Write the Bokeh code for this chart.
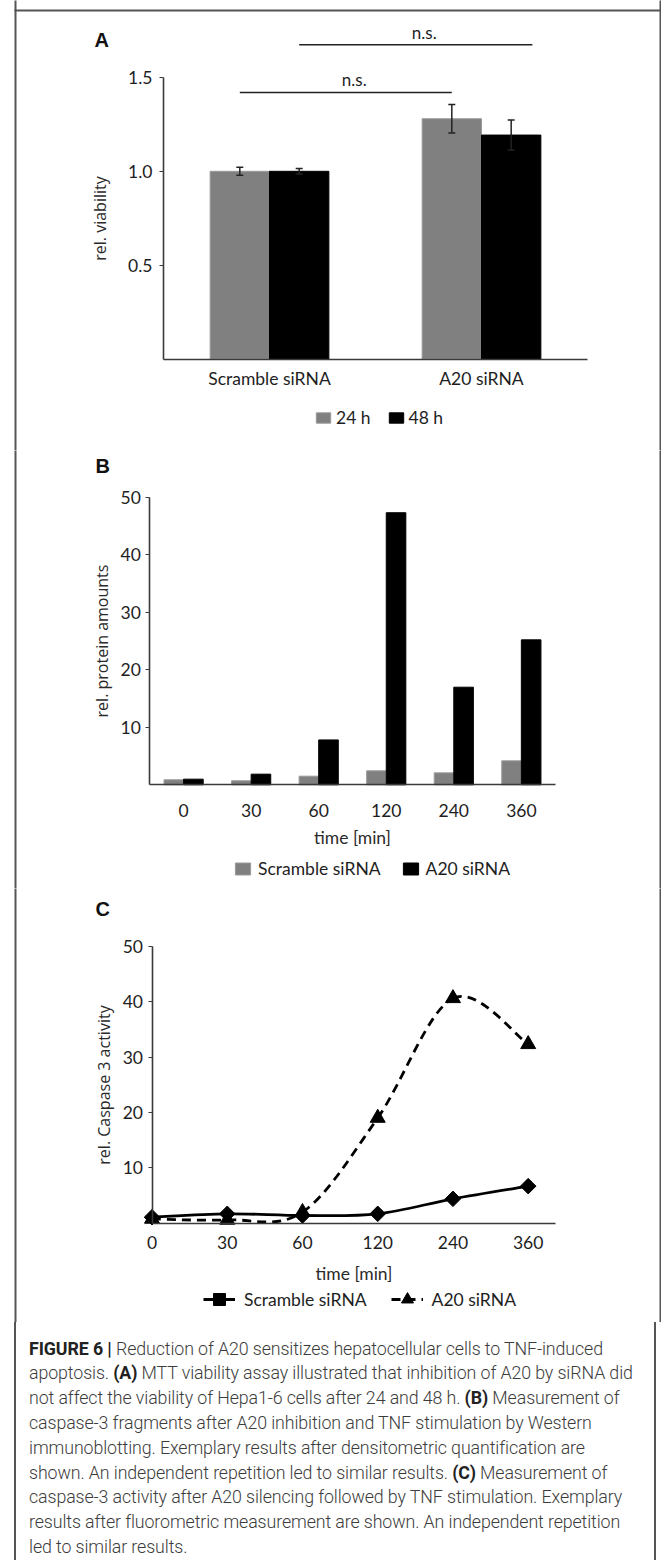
import numpy as np
from bokeh.plotting import figure
from bokeh.models import (ColumnDataSource, Range1d, FixedTicker, Whisker, TeeHead, Legend,
                          LegendItem, Div, PrintfTickFormatter)
from bokeh.layouts import column
from bokeh.transform import dodge
from bokeh.core.properties import value
from bokeh.embed import file_html
from bokeh.resources import INLINE

# ---------------- data ----------------
# Panel A: MTT viability
groups_a = ["Scramble siRNA", "A20 siRNA"]
series_a = ["24 h", "48 h"]
viab_24h = [1.00, 1.28]
viab_24h_err = [0.021, 0.076]
viab_48h = [1.00, 1.193]
viab_48h_err = [0.015, 0.08]
sig_labels = ["n.s.", "n.s."]

# Panel B: caspase-3 fragments (western blot densitometry)
times = ["0", "30", "60", "120", "240", "360"]
series_b = ["Scramble siRNA", "A20 siRNA"]
protein_scramble = [0.87, 0.70, 1.50, 2.43, 2.08, 4.17]
protein_a20 = [0.98, 1.85, 7.80, 47.3, 16.97, 25.2]

# Panel C: caspase-3 activity
casp_scramble = [1.08, 1.69, 1.39, 1.69, 4.40, 6.69]
casp_a20 = [0.78, 0.60, 2.00, 19.0, 40.6, 32.3]

caption_lines = [
    "<b>FIGURE 6 |</b> Reduction of A20 sensitizes hepatocellular cells to TNF-induced",
    "apoptosis. <b>(A)</b> MTT viability assay illustrated that inhibition of A20 by siRNA did",
    "not affect the viability of Hepa1-6 cells after 24 and 48 h. <b>(B)</b> Measurement of",
    "caspase-3 fragments after A20 inhibition and TNF stimulation by Western",
    "immunoblotting. Exemplary results after densitometric quantification are",
    "shown. An independent repetition led to similar results. <b>(C)</b> Measurement of",
    "caspase-3 activity after A20 silencing followed by TNF stimulation. Exemplary",
    "results after fluorometric measurement are shown. An independent repetition",
    "led to similar results.",
]

# ---------------- style / geometry (pixels of the picture) ----------------
GRAY = "#808080"
BLACK = "#000000"
AXIS = "#3a3a3a"
TEXT = "#1e1e1e"
BORDER = "#555555"
TICK_FONT = "Lato"
TICK_SIZE = "17.5px"
YLAB_FONT = "Open Sans"
PANEL_FONT = "Liberation Sans"
W = 661                        # 669 window minus the 8px page margin
H_TOTAL = 1560
PAGE_L, PAGE_R = 0, W
BORDER_L, BORDER_R = 15, 660   # centres of the 2px box lines


class Geo:
    """Maps picture pixels to data units for one panel (each frame covers its whole canvas)."""

    def __init__(self, top, height, x0_px, x_px, y0_px, y_px):
        self.top, self.height = top, height
        self.x0_px, self.x_px, self.y0_px, self.y_px = x0_px, x_px, y0_px, y_px

    def x(self, px):
        return (px - self.x0_px) / self.x_px

    def y(self, py):
        return (self.y0_px - py) / self.y_px

    def x_range(self):
        return Range1d(self.x(PAGE_L), self.x(PAGE_R))

    def y_range(self):
        return Range1d(self.y(self.top + self.height), self.y(self.top))


def make_fig(g):
    return figure(width=W, height=g.height, x_range=g.x_range(), y_range=g.y_range(),
                  output_backend="svg", toolbar_location=None,
                  min_border_left=0, min_border_right=0, min_border_top=0, min_border_bottom=0)


def style(p, x_loc, y_loc, x_bounds, y_bounds):
    p.outline_line_color = None
    p.xgrid.grid_line_color = None
    p.ygrid.grid_line_color = None
    p.background_fill_color = "white"
    p.border_fill_color = "white"
    for ax in p.axis:
        ax.axis_line_color = AXIS
        ax.axis_line_width = 1.6
        ax.major_tick_line_color = AXIS
        ax.major_tick_line_width = 1.2
        ax.major_tick_in = 0
        ax.major_tick_out = 4
        ax.minor_tick_line_color = None
        ax.major_label_text_font = TICK_FONT
        ax.major_label_text_font_size = TICK_SIZE
        ax.major_label_text_color = TEXT
        ax.axis_label_text_font_style = "normal"
        ax.axis_label_text_color = "#2a2a2a"
    p.xaxis.major_tick_line_color = None
    p.xaxis.fixed_location = x_loc
    p.yaxis.fixed_location = y_loc
    p.xaxis.bounds = x_bounds
    p.yaxis.bounds = y_bounds
    p.yaxis.axis_label_text_font = YLAB_FONT
    p.yaxis.axis_label_text_font_size = "16px"
    p.xaxis.axis_label_text_font = TICK_FONT
    p.xaxis.axis_label_text_font_size = TICK_SIZE


def box(p, g, with_top):
    """Figure box: left/right rules (and the top rule for the first panel)."""
    yb, yt = g.y(g.top + g.height + 5), g.y(g.top - 5)
    xs0 = [g.x(BORDER_L), g.x(BORDER_R)]
    xs1 = list(xs0)
    ys0 = [yb, yb]
    ys1 = [yt, yt]
    if with_top:
        xs0.append(g.x(BORDER_L - 1)); xs1.append(g.x(BORDER_R + 1))
        ys0.append(g.y(g.top + 10)); ys1.append(g.y(g.top + 10))
    p.segment(x0=xs0, y0=ys0, x1=xs1, y1=ys1, line_color=BORDER, line_width=2)


def panel_letter(p, g, txt, px, py_bottom):
    p.text(x=[g.x(px)], y=[g.y(py_bottom)], text=[txt], text_font=value(PANEL_FONT),
           text_font_style="bold", text_font_size=value("20px"), text_color="#111111",
           text_align="left", text_baseline="bottom")


def legend(p, items, x, y, glyph_w, glyph_h, spacing, standoff):
    lg = Legend(items=items, orientation="horizontal", location=(x, y),
                border_line_color=None, background_fill_alpha=0, padding=0, margin=0,
                glyph_width=glyph_w, glyph_height=glyph_h, spacing=spacing,
                label_standoff=standoff, label_text_font=TICK_FONT,
                label_text_font_size=TICK_SIZE, label_text_color=TEXT, label_height=14)
    p.add_layout(lg, "center")


# ---------------- Panel A ----------------
gA = Geo(top=0, height=450, x0_px=269, x_px=212, y0_px=358.5, y_px=187.7)
OFF_A = 0.14
BW_A = 0.28
xa = list(range(len(groups_a)))
pA = make_fig(gA)
box(pA, gA, True)
srcA = ColumnDataSource(dict(
    x=xa, v24=viab_24h, v48=viab_48h,
    up24=[v + e for v, e in zip(viab_24h, viab_24h_err)],
    lo24=[v - e for v, e in zip(viab_24h, viab_24h_err)],
    up48=[v + e for v, e in zip(viab_48h, viab_48h_err)],
    lo48=[v - e for v, e in zip(viab_48h, viab_48h_err)],
))
rA1 = pA.vbar(x=dodge("x", -OFF_A), top="v24", width=BW_A, source=srcA,
              fill_color=GRAY, line_color="#9a9a9a", line_width=1)
rA2 = pA.vbar(x=dodge("x", OFF_A), top="v48", width=BW_A, source=srcA,
              fill_color=BLACK, line_color=BLACK)
for off, up, lo in [(-OFF_A, "up24", "lo24"), (OFF_A, "up48", "lo48")]:
    pA.add_layout(Whisker(base=dodge("x", off), upper=up, lower=lo,
                          source=srcA, level="overlay", line_color="#222222", line_width=1.5,
                          upper_head=TeeHead(size=7, line_color="#222222", line_width=1.5),
                          lower_head=TeeHead(size=7, line_color="#222222", line_width=1.5)))

# significance brackets: (group, offset) -> (group, offset) at a height
brackets = [("Scramble siRNA", -OFF_A, "A20 siRNA", -OFF_A, 1.42),
            ("Scramble siRNA", OFF_A, "A20 siRNA", OFF_A + 0.1, 1.674)]
bx0 = [groups_a.index(b[0]) + b[1] for b in brackets]
bx1 = [groups_a.index(b[2]) + b[3] for b in brackets]
by = [b[4] for b in brackets]
srcS = ColumnDataSource(dict(x0=bx0, x1=bx1, y=by,
                             xm=[(a + b) / 2 + 0.04 for a, b in zip(bx0, bx1)], t=sig_labels))
pA.segment(x0="x0", y0="y", x1="x1", y1="y", source=srcS, line_color="#222222", line_width=1.5)
pA.text(x="xm", y="y", text="t", source=srcS, text_align="center", text_baseline="bottom",
        y_offset=-2, text_font=value(TICK_FONT), text_font_size=value("17px"), text_color=TEXT)

style(pA, 0, -0.5, (-0.5, 1.5), (0, 1.5))
pA.yaxis.ticker = FixedTicker(ticks=[0.5, 1.0, 1.5])
pA.yaxis.formatter = PrintfTickFormatter(format="%.1f")
pA.yaxis.major_label_standoff = 7
pA.yaxis.axis_label = "rel. viability"
pA.yaxis.axis_label_standoff = 14
pA.xaxis.ticker = FixedTicker(ticks=xa)
pA.xaxis.major_label_overrides = {i: g for i, g in enumerate(groups_a)}
pA.xaxis.major_label_standoff = 5
legend(pA, [LegendItem(label=series_a[0], renderers=[rA1]),
            LegendItem(label=series_a[1], renderers=[rA2])],
       314, 22, 18, 13, 16, 4)
panel_letter(pA, gA, "A", 94, 50.5)

# ---------------- Panel B ----------------
gB = Geo(top=450, height=438, x0_px=183.1, x_px=67.55, y0_px=784.3, y_px=5.752)
OFF_B = 0.145
BW_B = 0.29
xb = list(range(len(times)))
pB = make_fig(gB)
box(pB, gB, False)
srcB = ColumnDataSource(dict(x=xb, s=protein_scramble, a=protein_a20))
rB1 = pB.vbar(x=dodge("x", -OFF_B), top="s", width=BW_B, source=srcB,
              fill_color=GRAY, line_color="#9a9a9a", line_width=1)
rB2 = pB.vbar(x=dodge("x", OFF_B), top="a", width=BW_B, source=srcB,
              fill_color=BLACK, line_color=BLACK)
style(pB, 0, -0.5, (-0.5, 5.5), (0, 50))
pB.yaxis.ticker = FixedTicker(ticks=[10, 20, 30, 40, 50])
pB.yaxis.major_label_standoff = 5
pB.yaxis.axis_label = "rel. protein amounts"
pB.yaxis.axis_label_standoff = 4
pB.xaxis.ticker = FixedTicker(ticks=xb)
pB.xaxis.major_label_overrides = {i: t for i, t in enumerate(times)}
pB.xaxis.major_label_standoff = 15
pB.xaxis.axis_label = "time [min]"
pB.xaxis.axis_label_standoff = 7
legend(pB, [LegendItem(label=series_b[0], renderers=[rB1]),
            LegendItem(label=series_b[1], renderers=[rB2])],
       233, 9, 19, 15, 20, 6)
panel_letter(pB, gB, "B", 95, 476)

# ---------------- Panel C ----------------
gC = Geo(top=888, height=434, x0_px=151.5, x_px=75.24, y0_px=1222.7, y_px=5.54)
xc = list(range(len(times)))
pC = make_fig(gC)
box(pC, gC, False)


def smooth(xs, ys):
    """Catmull-Rom style smoothing expressed as cubic Bezier control points."""
    P = np.column_stack([xs, ys]).astype(float)
    n = len(P)
    keys = ("x0", "y0", "x1", "y1", "cx0", "cy0", "cx1", "cy1")
    out = {k: [] for k in keys}
    for i in range(n - 1):
        p0 = P[i - 1] if i > 0 else P[i]
        p1, p2 = P[i], P[i + 1]
        p3 = P[i + 2] if i + 2 < n else P[i + 1]
        c1 = p1 + (p2 - p0) / 6.0
        c2 = p2 - (p3 - p1) / 6.0
        for k, v in zip(keys, (p1[0], p1[1], p2[0], p2[1], c1[0], c1[1], c2[0], c2[1])):
            out[k].append(float(v))
    return ColumnDataSource(out)


bz_s = pC.bezier(x0="x0", y0="y0", x1="x1", y1="y1", cx0="cx0", cy0="cy0", cx1="cx1", cy1="cy1",
                 source=smooth(xc, casp_scramble), line_color=BLACK, line_width=2.8)
bz_a = pC.bezier(x0="x0", y0="y0", x1="x1", y1="y1", cx0="cx0", cy0="cy0", cx1="cx1", cy1="cy1",
                 source=smooth(xc, casp_a20), line_color=BLACK, line_width=2.8, line_dash="9 6")
srcC = ColumnDataSource(dict(x=xc, s=casp_scramble, a=casp_a20))
sc_s = pC.scatter(x="x", y="s", source=srcC, marker="square", angle=np.pi / 4, size=11,
                  fill_color=BLACK, line_color=BLACK)
sc_a = pC.scatter(x="x", y="a", source=srcC, marker="triangle", size=15,
                  fill_color=BLACK, line_color=BLACK)
style(pC, 0, 0, (0, 5.357), (0, 50))
pC.yaxis.ticker = FixedTicker(ticks=[10, 20, 30, 40, 50])
pC.yaxis.major_label_standoff = 5
pC.yaxis.axis_label = "rel. Caspase 3 activity"
pC.yaxis.axis_label_standoff = 5
pC.xaxis.ticker = FixedTicker(ticks=xc)
pC.xaxis.major_label_overrides = {i: t for i, t in enumerate(times)}
pC.xaxis.major_label_standoff = 9
pC.xaxis.axis_label = "time [min]"
pC.xaxis.axis_label_standoff = 10
legend(pC, [LegendItem(label=series_b[0], renderers=[bz_s, sc_s]),
            LegendItem(label=series_b[1], renderers=[bz_a, sc_a])],
       203, 8, 32, 30, 24, 9)
panel_letter(pC, gC, "C", 95, 919)

# ---------------- caption ----------------
CAP_TOP = gC.top + gC.height
CAP_H = H_TOTAL - CAP_TOP
cap_html = ("<div style=\"margin-left:" + str(BORDER_L - 1) + "px; width:" + str(BORDER_R - BORDER_L - 3)
            + "px; height:" + str(CAP_H) + "px; border-left:2px solid " + BORDER
            + "; border-right:2px solid " + BORDER + "; overflow:hidden;\">"
            "<div style=\"padding:14.6px 0 0 13px; font-family:Roboto,sans-serif; font-weight:300;"
            " font-size:17.8px; letter-spacing:-0.1px; line-height:24.8px; color:#3c3c3c;"
            " white-space:nowrap;\">"
            + "<br>".join(caption_lines).replace("<b>", "<b style=\"font-weight:700;color:#222\">")
            + "</div></div>")
cap = Div(text=cap_html, width=W, height=CAP_H, margin=0, styles={"overflow": "hidden"})

layout = column(pA, pB, pC, cap)

open("out.html", "w").write(file_html(layout, INLINE))
